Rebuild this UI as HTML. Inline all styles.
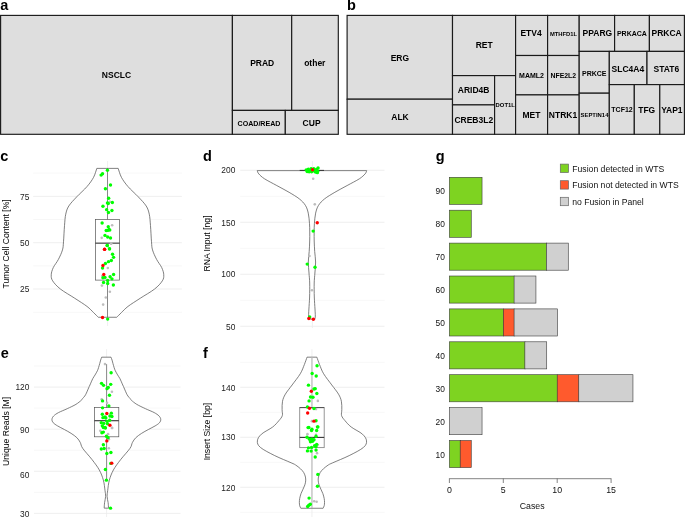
<!DOCTYPE html>
<html><head><meta charset="utf-8"><title>Figure</title>
<style>
html,body{margin:0;padding:0;background:#fff;}
body{width:685px;height:517px;overflow:hidden;}
svg{display:block;will-change:transform;font-family:"Liberation Sans",sans-serif;}
</style></head><body>
<svg width="685" height="517" viewBox="0 0 685 517">
<rect x="0" y="0" width="685" height="517" fill="#ffffff"/>
<rect x="0.60" y="15.40" width="231.80" height="118.90" fill="#dedede" stroke="#1a1a1a" stroke-width="1.15"/>
<rect x="232.40" y="15.40" width="59.30" height="95.00" fill="#dedede" stroke="#1a1a1a" stroke-width="1.15"/>
<rect x="291.70" y="15.40" width="46.60" height="95.00" fill="#dedede" stroke="#1a1a1a" stroke-width="1.15"/>
<rect x="232.40" y="110.40" width="52.90" height="23.90" fill="#dedede" stroke="#1a1a1a" stroke-width="1.15"/>
<rect x="285.30" y="110.40" width="53.00" height="23.90" fill="#dedede" stroke="#1a1a1a" stroke-width="1.15"/>
<text x="116.50" y="77.84" font-size="8.5" font-weight="bold" text-anchor="middle" fill="#000" >NSCLC</text>
<text x="262.20" y="66.34" font-size="8.5" font-weight="bold" text-anchor="middle" fill="#000" >PRAD</text>
<text x="314.80" y="66.34" font-size="8.5" font-weight="bold" text-anchor="middle" fill="#000" >other</text>
<text x="259.00" y="125.74" font-size="7.1" font-weight="bold" text-anchor="middle" fill="#000" >COAD/READ</text>
<text x="311.60" y="126.14" font-size="8.5" font-weight="bold" text-anchor="middle" fill="#000" >CUP</text>
<rect x="347.10" y="15.40" width="105.40" height="83.80" fill="#dedede" stroke="#1a1a1a" stroke-width="1.15"/>
<rect x="347.10" y="99.20" width="105.40" height="35.10" fill="#dedede" stroke="#1a1a1a" stroke-width="1.15"/>
<rect x="452.50" y="15.40" width="63.10" height="60.20" fill="#dedede" stroke="#1a1a1a" stroke-width="1.15"/>
<rect x="452.50" y="75.60" width="42.10" height="29.30" fill="#dedede" stroke="#1a1a1a" stroke-width="1.15"/>
<rect x="452.50" y="104.90" width="42.10" height="29.40" fill="#dedede" stroke="#1a1a1a" stroke-width="1.15"/>
<rect x="494.60" y="75.60" width="21.00" height="58.70" fill="#dedede" stroke="#1a1a1a" stroke-width="1.15"/>
<rect x="515.60" y="15.40" width="32.00" height="40.10" fill="#dedede" stroke="#1a1a1a" stroke-width="1.15"/>
<rect x="547.60" y="15.40" width="31.60" height="40.10" fill="#dedede" stroke="#1a1a1a" stroke-width="1.15"/>
<rect x="515.60" y="55.50" width="32.00" height="39.40" fill="#dedede" stroke="#1a1a1a" stroke-width="1.15"/>
<rect x="547.60" y="55.50" width="31.60" height="39.40" fill="#dedede" stroke="#1a1a1a" stroke-width="1.15"/>
<rect x="515.60" y="94.90" width="32.00" height="39.40" fill="#dedede" stroke="#1a1a1a" stroke-width="1.15"/>
<rect x="547.60" y="94.90" width="31.60" height="39.40" fill="#dedede" stroke="#1a1a1a" stroke-width="1.15"/>
<rect x="579.20" y="15.40" width="35.40" height="36.00" fill="#dedede" stroke="#1a1a1a" stroke-width="1.15"/>
<rect x="614.60" y="15.40" width="34.80" height="36.00" fill="#dedede" stroke="#1a1a1a" stroke-width="1.15"/>
<rect x="649.40" y="15.40" width="35.00" height="36.00" fill="#dedede" stroke="#1a1a1a" stroke-width="1.15"/>
<rect x="579.20" y="51.40" width="30.10" height="41.80" fill="#dedede" stroke="#1a1a1a" stroke-width="1.15"/>
<rect x="579.20" y="93.20" width="30.10" height="41.10" fill="#dedede" stroke="#1a1a1a" stroke-width="1.15"/>
<rect x="609.30" y="51.40" width="37.70" height="33.20" fill="#dedede" stroke="#1a1a1a" stroke-width="1.15"/>
<rect x="647.00" y="51.40" width="37.40" height="33.20" fill="#dedede" stroke="#1a1a1a" stroke-width="1.15"/>
<rect x="609.30" y="84.60" width="25.00" height="49.70" fill="#dedede" stroke="#1a1a1a" stroke-width="1.15"/>
<rect x="634.30" y="84.60" width="25.50" height="49.70" fill="#dedede" stroke="#1a1a1a" stroke-width="1.15"/>
<rect x="659.80" y="84.60" width="24.60" height="49.70" fill="#dedede" stroke="#1a1a1a" stroke-width="1.15"/>
<text x="399.90" y="61.04" font-size="8.5" font-weight="bold" text-anchor="middle" fill="#000" >ERG</text>
<text x="400.00" y="120.34" font-size="8.5" font-weight="bold" text-anchor="middle" fill="#000" >ALK</text>
<text x="484.20" y="48.44" font-size="8.5" font-weight="bold" text-anchor="middle" fill="#000" >RET</text>
<text x="473.60" y="93.34" font-size="8.5" font-weight="bold" text-anchor="middle" fill="#000" >ARID4B</text>
<text x="473.80" y="123.04" font-size="8.5" font-weight="bold" text-anchor="middle" fill="#000" >CREB3L2</text>
<text x="505.20" y="107.49" font-size="5.85" font-weight="bold" text-anchor="middle" fill="#000" >DOT1L</text>
<text x="531.10" y="36.44" font-size="8.5" font-weight="bold" text-anchor="middle" fill="#000" >ETV4</text>
<text x="563.50" y="35.98" font-size="5.8" font-weight="bold" text-anchor="middle" fill="#000" >MTHFD1L</text>
<text x="531.50" y="78.11" font-size="7.0" font-weight="bold" text-anchor="middle" fill="#000" >MAML2</text>
<text x="563.30" y="78.27" font-size="6.9" font-weight="bold" text-anchor="middle" fill="#000" >NFE2L2</text>
<text x="531.50" y="117.64" font-size="8.5" font-weight="bold" text-anchor="middle" fill="#000" >MET</text>
<text x="563.00" y="117.54" font-size="8.5" font-weight="bold" text-anchor="middle" fill="#000" >NTRK1</text>
<text x="597.40" y="36.44" font-size="8.5" font-weight="bold" text-anchor="middle" fill="#000" >PPARG</text>
<text x="631.90" y="36.01" font-size="7.0" font-weight="bold" text-anchor="middle" fill="#000" >PRKACA</text>
<text x="666.60" y="36.44" font-size="8.5" font-weight="bold" text-anchor="middle" fill="#000" >PRKCA</text>
<text x="594.30" y="75.51" font-size="7.0" font-weight="bold" text-anchor="middle" fill="#000" >PRKCE</text>
<text x="594.50" y="116.81" font-size="5.9" font-weight="bold" text-anchor="middle" fill="#000" >SEPTIN14</text>
<text x="627.90" y="71.64" font-size="8.5" font-weight="bold" text-anchor="middle" fill="#000" >SLC4A4</text>
<text x="666.40" y="71.64" font-size="8.5" font-weight="bold" text-anchor="middle" fill="#000" >STAT6</text>
<text x="622.00" y="112.01" font-size="7.0" font-weight="bold" text-anchor="middle" fill="#000" >TCF12</text>
<text x="646.70" y="112.54" font-size="8.5" font-weight="bold" text-anchor="middle" fill="#000" >TFG</text>
<text x="671.90" y="112.54" font-size="8.5" font-weight="bold" text-anchor="middle" fill="#000" >YAP1</text>
<text x="0.20" y="10.40" font-size="14.5" font-weight="bold" text-anchor="start" fill="#000" >a</text>
<text x="346.90" y="10.30" font-size="14.5" font-weight="bold" text-anchor="start" fill="#000" >b</text>
<text x="0.30" y="161.00" font-size="14.5" font-weight="bold" text-anchor="start" fill="#000" >c</text>
<text x="202.90" y="160.70" font-size="14.5" font-weight="bold" text-anchor="start" fill="#000" >d</text>
<text x="0.80" y="357.70" font-size="14.5" font-weight="bold" text-anchor="start" fill="#000" >e</text>
<text x="203.10" y="357.70" font-size="14.5" font-weight="bold" text-anchor="start" fill="#000" >f</text>
<text x="435.70" y="160.90" font-size="14.5" font-weight="bold" text-anchor="start" fill="#000" >g</text>
<line x1="33.20" y1="173.10" x2="181.90" y2="173.10" stroke="#f2f2f2" stroke-width="0.6"/>
<line x1="33.20" y1="219.50" x2="181.90" y2="219.50" stroke="#f2f2f2" stroke-width="0.6"/>
<line x1="33.20" y1="265.90" x2="181.90" y2="265.90" stroke="#f2f2f2" stroke-width="0.6"/>
<line x1="33.20" y1="312.30" x2="181.90" y2="312.30" stroke="#f2f2f2" stroke-width="0.6"/>
<line x1="33.20" y1="196.40" x2="181.90" y2="196.40" stroke="#ebebeb" stroke-width="0.8"/>
<line x1="33.20" y1="242.70" x2="181.90" y2="242.70" stroke="#ebebeb" stroke-width="0.8"/>
<line x1="33.20" y1="289.00" x2="181.90" y2="289.00" stroke="#ebebeb" stroke-width="0.8"/>
<line x1="107.55" y1="161" x2="107.55" y2="326" stroke="#ebebeb" stroke-width="0.8"/>
<text x="29.30" y="199.50" font-size="8.4" font-weight="normal" text-anchor="end" fill="#222" >75</text>
<text x="29.30" y="245.70" font-size="8.4" font-weight="normal" text-anchor="end" fill="#222" >50</text>
<text x="29.30" y="292.00" font-size="8.4" font-weight="normal" text-anchor="end" fill="#222" >25</text>
<text transform="translate(8.9,243.9) rotate(-90)" font-size="8.65" text-anchor="middle" fill="#000">Tumor Cell Content [%]</text>
<path d="M96.82,168.38 C96.27,169.88 95.18,174.34 93.55,177.37 C91.91,180.40 89.80,183.33 87.01,186.57 C84.21,189.80 79.82,193.55 76.79,196.79 C73.76,200.02 70.66,203.09 68.82,205.98 C66.98,208.88 66.47,210.92 65.75,214.16 C65.04,217.39 64.90,220.80 64.52,225.40 C64.15,230.00 63.84,237.66 63.50,241.75 C63.16,245.84 63.33,246.98 62.48,249.92 C61.63,252.87 59.93,256.47 58.39,259.42 C56.86,262.36 54.48,265.04 53.28,267.59 C52.09,270.15 51.34,272.53 51.24,274.74 C51.14,276.96 51.14,278.49 52.67,280.87 C54.20,283.26 56.76,286.15 60.44,289.05 C64.12,291.94 70.32,295.35 74.74,298.25 C79.17,301.14 83.87,304.04 87.01,306.42 C90.14,308.81 91.67,310.75 93.55,312.55 C95.42,314.36 97.46,316.47 98.25,317.25 L116.75,317.25  C117.54,316.47 119.58,314.36 121.45,312.55 C123.33,310.75 124.86,308.81 127.99,306.42 C131.13,304.04 135.83,301.14 140.26,298.25 C144.68,295.35 150.88,291.94 154.56,289.05 C158.24,286.15 160.80,283.26 162.33,280.87 C163.86,278.49 163.86,276.96 163.76,274.74 C163.66,272.53 162.91,270.15 161.72,267.59 C160.52,265.04 158.14,262.36 156.61,259.42 C155.07,256.47 153.37,252.87 152.52,249.92 C151.67,246.98 151.84,245.84 151.50,241.75 C151.16,237.66 150.85,230.00 150.48,225.40 C150.10,220.80 149.96,217.39 149.25,214.16 C148.53,210.92 148.02,208.88 146.18,205.98 C144.34,203.09 141.24,200.02 138.21,196.79 C135.18,193.55 130.79,189.80 127.99,186.57 C125.20,183.33 123.09,180.40 121.45,177.37 C119.82,174.34 118.73,169.88 118.18,168.38 Z" fill="#ffffff" stroke="#555" stroke-width="0.75" stroke-linejoin="round"/>
<line x1="107.50" y1="168.40" x2="107.50" y2="219.40" stroke="#555" stroke-width="0.7"/>
<line x1="107.50" y1="280.10" x2="107.50" y2="317.30" stroke="#555" stroke-width="0.7"/>
<rect x="95.35" y="219.40" width="24.30" height="60.70" fill="none" stroke="#555" stroke-width="0.7"/>
<line x1="95.35" y1="243.15" x2="119.65" y2="243.15" stroke="#333" stroke-width="1.1"/>
<circle cx="109.90" cy="201.69" r="1.3" fill="#bdbdbd"/>
<circle cx="112.14" cy="225.20" r="1.3" fill="#bdbdbd"/>
<circle cx="101.72" cy="237.87" r="1.3" fill="#bdbdbd"/>
<circle cx="111.12" cy="243.59" r="1.3" fill="#bdbdbd"/>
<circle cx="111.12" cy="243.68" r="1.3" fill="#bdbdbd"/>
<circle cx="107.85" cy="268.00" r="1.3" fill="#bdbdbd"/>
<circle cx="102.33" cy="275.77" r="1.3" fill="#bdbdbd"/>
<circle cx="101.93" cy="285.58" r="1.3" fill="#bdbdbd"/>
<circle cx="109.90" cy="291.71" r="1.3" fill="#bdbdbd"/>
<circle cx="105.81" cy="297.43" r="1.3" fill="#bdbdbd"/>
<circle cx="103.15" cy="304.58" r="1.3" fill="#bdbdbd"/>
<circle cx="107.44" cy="170.22" r="1.7" fill="#00ff00"/>
<circle cx="102.54" cy="173.69" r="1.7" fill="#00ff00"/>
<circle cx="101.11" cy="175.12" r="1.7" fill="#00ff00"/>
<circle cx="110.51" cy="184.93" r="1.7" fill="#00ff00"/>
<circle cx="105.40" cy="188.82" r="1.7" fill="#00ff00"/>
<circle cx="108.67" cy="198.22" r="1.7" fill="#00ff00"/>
<circle cx="107.44" cy="202.92" r="1.7" fill="#00ff00"/>
<circle cx="112.35" cy="202.51" r="1.7" fill="#00ff00"/>
<circle cx="108.26" cy="203.53" r="1.7" fill="#00ff00"/>
<circle cx="102.95" cy="206.19" r="1.7" fill="#00ff00"/>
<circle cx="106.63" cy="209.66" r="1.7" fill="#00ff00"/>
<circle cx="111.94" cy="210.48" r="1.7" fill="#00ff00"/>
<circle cx="108.47" cy="212.52" r="1.7" fill="#00ff00"/>
<circle cx="102.13" cy="222.95" r="1.7" fill="#00ff00"/>
<circle cx="108.26" cy="226.63" r="1.7" fill="#00ff00"/>
<circle cx="109.08" cy="229.49" r="1.7" fill="#00ff00"/>
<circle cx="106.22" cy="230.51" r="1.7" fill="#00ff00"/>
<circle cx="104.99" cy="235.41" r="1.7" fill="#00ff00"/>
<circle cx="107.65" cy="237.05" r="1.7" fill="#00ff00"/>
<circle cx="110.51" cy="238.07" r="1.7" fill="#00ff00"/>
<circle cx="107.24" cy="245.43" r="1.7" fill="#00ff00"/>
<circle cx="109.49" cy="248.90" r="1.7" fill="#00ff00"/>
<circle cx="107.24" cy="245.52" r="1.7" fill="#00ff00"/>
<circle cx="109.49" cy="248.79" r="1.7" fill="#00ff00"/>
<circle cx="112.55" cy="254.31" r="1.7" fill="#00ff00"/>
<circle cx="113.57" cy="257.37" r="1.7" fill="#00ff00"/>
<circle cx="111.33" cy="260.44" r="1.7" fill="#00ff00"/>
<circle cx="108.47" cy="261.66" r="1.7" fill="#00ff00"/>
<circle cx="105.40" cy="263.50" r="1.7" fill="#00ff00"/>
<circle cx="102.54" cy="268.00" r="1.7" fill="#00ff00"/>
<circle cx="113.57" cy="274.54" r="1.7" fill="#00ff00"/>
<circle cx="110.10" cy="276.79" r="1.7" fill="#00ff00"/>
<circle cx="104.99" cy="277.40" r="1.7" fill="#00ff00"/>
<circle cx="102.95" cy="277.81" r="1.7" fill="#00ff00"/>
<circle cx="111.94" cy="278.83" r="1.7" fill="#00ff00"/>
<circle cx="107.65" cy="280.47" r="1.7" fill="#00ff00"/>
<circle cx="103.56" cy="282.51" r="1.7" fill="#00ff00"/>
<circle cx="107.65" cy="283.53" r="1.7" fill="#00ff00"/>
<circle cx="113.37" cy="284.96" r="1.7" fill="#00ff00"/>
<circle cx="107.65" cy="319.09" r="1.7" fill="#00ff00"/>
<circle cx="109.80" cy="230.10" r="1.7" fill="#00ff00"/>
<circle cx="107.70" cy="230.40" r="1.7" fill="#00ff00"/>
<circle cx="104.58" cy="249.31" r="1.7" fill="#ff0000"/>
<circle cx="104.58" cy="249.40" r="1.7" fill="#ff0000"/>
<circle cx="102.95" cy="265.55" r="1.7" fill="#ff0000"/>
<circle cx="103.76" cy="274.54" r="1.7" fill="#ff0000"/>
<circle cx="102.54" cy="317.46" r="1.7" fill="#ff0000"/>
<line x1="240.20" y1="196.30" x2="384.50" y2="196.30" stroke="#f2f2f2" stroke-width="0.6"/>
<line x1="240.20" y1="248.30" x2="384.50" y2="248.30" stroke="#f2f2f2" stroke-width="0.6"/>
<line x1="240.20" y1="300.30" x2="384.50" y2="300.30" stroke="#f2f2f2" stroke-width="0.6"/>
<line x1="240.20" y1="170.30" x2="384.50" y2="170.30" stroke="#ebebeb" stroke-width="0.8"/>
<line x1="240.20" y1="222.30" x2="384.50" y2="222.30" stroke="#ebebeb" stroke-width="0.8"/>
<line x1="240.20" y1="274.30" x2="384.50" y2="274.30" stroke="#ebebeb" stroke-width="0.8"/>
<line x1="240.20" y1="326.30" x2="384.50" y2="326.30" stroke="#ebebeb" stroke-width="0.8"/>
<line x1="312.35" y1="161" x2="312.35" y2="328" stroke="#ebebeb" stroke-width="0.8"/>
<text x="235.30" y="173.30" font-size="8.4" font-weight="normal" text-anchor="end" fill="#222" >200</text>
<text x="235.30" y="225.50" font-size="8.4" font-weight="normal" text-anchor="end" fill="#222" >150</text>
<text x="235.30" y="277.40" font-size="8.4" font-weight="normal" text-anchor="end" fill="#222" >100</text>
<text x="235.30" y="329.60" font-size="8.4" font-weight="normal" text-anchor="end" fill="#222" >50</text>
<text transform="translate(209.8,243.5) rotate(-90)" font-size="8.65" text-anchor="middle" fill="#000">RNA Input [ng]</text>
<path d="M257.17,170.63 C257.44,171.17 257.58,172.53 258.80,173.90 C260.03,175.26 261.53,176.86 264.52,178.80 C267.52,180.74 272.70,183.30 276.79,185.55 C280.87,187.79 285.30,190.08 289.05,192.29 C292.80,194.51 296.54,196.65 299.27,198.83 C301.99,201.01 303.90,202.99 305.40,205.37 C306.90,207.76 307.58,210.14 308.26,213.14 C308.94,216.13 309.24,220.21 309.49,223.36 C309.74,226.50 309.71,229.06 309.75,232.00 C309.79,234.94 309.79,237.75 309.70,241.00 C309.61,244.25 309.43,248.00 309.20,251.50 C308.97,255.00 308.33,258.42 308.30,262.00 C308.27,265.58 308.77,269.50 309.00,273.00 C309.23,276.50 309.60,279.00 309.70,283.00 C309.80,287.00 309.73,292.67 309.60,297.00 C309.47,301.33 309.07,305.83 308.90,309.00 C308.73,312.17 308.58,314.33 308.60,316.00 C308.62,317.67 308.93,318.50 309.00,319.00 L314.90,319.00  C314.97,318.50 315.28,317.67 315.30,316.00 C315.32,314.33 315.17,312.17 315.00,309.00 C314.83,305.83 314.43,301.33 314.30,297.00 C314.17,292.67 314.10,287.00 314.20,283.00 C314.30,279.00 314.67,276.50 314.90,273.00 C315.13,269.50 315.63,265.58 315.60,262.00 C315.57,258.42 314.93,255.00 314.70,251.50 C314.47,248.00 314.29,244.25 314.20,241.00 C314.11,237.75 314.11,234.94 314.15,232.00 C314.19,229.06 314.16,226.50 314.41,223.36 C314.66,220.21 314.96,216.13 315.64,213.14 C316.32,210.14 317.00,207.76 318.50,205.37 C320.00,202.99 321.91,201.01 324.63,198.83 C327.36,196.65 331.10,194.51 334.85,192.29 C338.60,190.08 343.03,187.79 347.11,185.55 C351.20,183.30 356.38,180.74 359.38,178.80 C362.37,176.86 363.87,175.26 365.10,173.90 C366.32,172.53 366.46,171.17 366.73,170.63 Z" fill="#ffffff" stroke="#555" stroke-width="0.75" stroke-linejoin="round"/>
<line x1="299.7" y1="170.4" x2="324" y2="170.4" stroke="#333" stroke-width="1.0"/>
<circle cx="313.17" cy="178.80" r="1.3" fill="#bdbdbd"/>
<circle cx="314.80" cy="204.35" r="1.3" fill="#bdbdbd"/>
<circle cx="309.49" cy="255.94" r="1.3" fill="#bdbdbd"/>
<circle cx="311.94" cy="290.28" r="1.3" fill="#bdbdbd"/>
<circle cx="306.24" cy="169.85" r="1.7" fill="#00ff00"/>
<circle cx="307.17" cy="171.47" r="1.7" fill="#00ff00"/>
<circle cx="308.33" cy="169.15" r="1.7" fill="#00ff00"/>
<circle cx="309.14" cy="171.82" r="1.7" fill="#00ff00"/>
<circle cx="310.30" cy="170.66" r="1.7" fill="#00ff00"/>
<circle cx="311.11" cy="168.69" r="1.7" fill="#00ff00"/>
<circle cx="311.58" cy="171.82" r="1.7" fill="#00ff00"/>
<circle cx="313.78" cy="168.69" r="1.7" fill="#00ff00"/>
<circle cx="314.59" cy="171.24" r="1.7" fill="#00ff00"/>
<circle cx="315.75" cy="172.17" r="1.7" fill="#00ff00"/>
<circle cx="316.45" cy="169.50" r="1.7" fill="#00ff00"/>
<circle cx="317.61" cy="171.24" r="1.7" fill="#00ff00"/>
<circle cx="318.07" cy="167.99" r="1.7" fill="#00ff00"/>
<circle cx="317.38" cy="172.63" r="1.7" fill="#00ff00"/>
<circle cx="313.17" cy="231.12" r="1.7" fill="#00ff00"/>
<circle cx="307.24" cy="264.12" r="1.7" fill="#00ff00"/>
<circle cx="315.01" cy="267.18" r="1.7" fill="#00ff00"/>
<circle cx="309.69" cy="317.05" r="1.7" fill="#00ff00"/>
<circle cx="312.55" cy="169.81" r="1.7" fill="#ff0000"/>
<circle cx="317.25" cy="222.74" r="1.7" fill="#ff0000"/>
<circle cx="308.87" cy="318.48" r="1.7" fill="#ff0000"/>
<circle cx="313.37" cy="319.30" r="1.7" fill="#ff0000"/>
<line x1="34.00" y1="366.00" x2="180.50" y2="366.00" stroke="#f2f2f2" stroke-width="0.6"/>
<line x1="34.00" y1="408.10" x2="180.50" y2="408.10" stroke="#f2f2f2" stroke-width="0.6"/>
<line x1="34.00" y1="450.20" x2="180.50" y2="450.20" stroke="#f2f2f2" stroke-width="0.6"/>
<line x1="34.00" y1="492.40" x2="180.50" y2="492.40" stroke="#f2f2f2" stroke-width="0.6"/>
<line x1="34.00" y1="387.10" x2="180.50" y2="387.10" stroke="#ebebeb" stroke-width="0.8"/>
<line x1="34.00" y1="429.20" x2="180.50" y2="429.20" stroke="#ebebeb" stroke-width="0.8"/>
<line x1="34.00" y1="471.30" x2="180.50" y2="471.30" stroke="#ebebeb" stroke-width="0.8"/>
<line x1="34.00" y1="513.40" x2="180.50" y2="513.40" stroke="#ebebeb" stroke-width="0.8"/>
<line x1="106.60" y1="349.2" x2="106.60" y2="517" stroke="#ebebeb" stroke-width="0.8"/>
<text x="29.40" y="390.40" font-size="8.4" font-weight="normal" text-anchor="end" fill="#222" >120</text>
<text x="29.40" y="433.10" font-size="8.4" font-weight="normal" text-anchor="end" fill="#222" >90</text>
<text x="29.40" y="478.00" font-size="8.4" font-weight="normal" text-anchor="end" fill="#222" >60</text>
<text x="29.40" y="516.60" font-size="8.4" font-weight="normal" text-anchor="end" fill="#222" >30</text>
<text transform="translate(8.9,431.4) rotate(-90)" font-size="8.65" text-anchor="middle" fill="#000">Unique Reads [M]</text>
<path d="M101.69,357.18 C101.52,357.66 100.98,359.02 100.65,360.08 C100.32,361.14 100.07,362.30 99.72,363.56 C99.37,364.82 98.95,366.42 98.56,367.62 C98.17,368.82 97.98,369.54 97.40,370.75 C96.82,371.97 95.85,373.62 95.08,374.93 C94.31,376.25 93.53,377.15 92.76,378.64 C91.99,380.13 91.21,382.12 90.44,383.86 C89.67,385.60 88.80,387.54 88.12,389.08 C87.44,390.63 86.94,391.98 86.38,393.14 C85.82,394.30 85.39,395.14 84.76,396.04 C84.12,396.95 83.13,397.89 82.55,398.60 C81.97,399.30 82.37,399.33 81.27,400.29 C80.17,401.25 78.28,402.95 75.95,404.35 C73.61,405.75 70.15,407.33 67.24,408.70 C64.34,410.07 60.80,411.36 58.54,412.57 C56.28,413.78 54.80,414.83 53.70,415.96 C52.61,417.09 52.04,418.21 51.96,419.34 C51.88,420.47 52.29,421.63 53.22,422.73 C54.16,423.82 55.72,424.79 57.57,425.92 C59.43,427.05 62.09,428.26 64.34,429.50 C66.60,430.74 69.02,432.00 71.11,433.37 C73.21,434.74 75.38,436.19 76.91,437.72 C78.45,439.25 79.33,440.78 80.30,442.55 C81.27,444.33 80.75,445.50 82.72,448.36 C84.69,451.21 89.36,456.11 92.12,459.70 C94.87,463.29 97.39,466.51 99.27,469.92 C101.14,473.32 102.40,476.73 103.36,480.14 C104.31,483.54 104.62,487.63 104.99,490.36 C105.37,493.08 105.67,494.44 105.60,496.49 C105.54,498.53 104.82,500.68 104.58,502.62 C104.34,504.56 104.24,507.22 104.17,508.14 L108.53,508.14  C108.46,507.22 108.36,504.56 108.12,502.62 C107.88,500.68 107.16,498.53 107.10,496.49 C107.03,494.44 107.33,493.08 107.71,490.36 C108.08,487.63 108.39,483.54 109.34,480.14 C110.30,476.73 111.56,473.32 113.43,469.92 C115.31,466.51 117.83,463.29 120.58,459.70 C123.34,456.11 128.01,451.21 129.98,448.36 C131.95,445.50 131.43,444.33 132.40,442.55 C133.37,440.78 134.25,439.25 135.79,437.72 C137.32,436.19 139.49,434.74 141.59,433.37 C143.68,432.00 146.10,430.74 148.36,429.50 C150.61,428.26 153.27,427.05 155.13,425.92 C156.98,424.79 158.54,423.82 159.48,422.73 C160.41,421.63 160.82,420.47 160.74,419.34 C160.66,418.21 160.09,417.09 159.00,415.96 C157.90,414.83 156.42,413.78 154.16,412.57 C151.90,411.36 148.36,410.07 145.46,408.70 C142.55,407.33 139.09,405.75 136.75,404.35 C134.42,402.95 132.53,401.25 131.43,400.29 C130.33,399.33 130.73,399.30 130.15,398.60 C129.57,397.89 128.58,396.95 127.94,396.04 C127.31,395.14 126.88,394.30 126.32,393.14 C125.76,391.98 125.26,390.63 124.58,389.08 C123.90,387.54 123.03,385.60 122.26,383.86 C121.49,382.12 120.71,380.13 119.94,378.64 C119.17,377.15 118.39,376.25 117.62,374.93 C116.85,373.62 115.88,371.97 115.30,370.75 C114.72,369.54 114.53,368.82 114.14,367.62 C113.75,366.42 113.33,364.82 112.98,363.56 C112.63,362.30 112.38,361.14 112.05,360.08 C111.72,359.02 111.18,357.66 111.01,357.18 Z" fill="#ffffff" stroke="#555" stroke-width="0.75" stroke-linejoin="round"/>
<line x1="106.60" y1="364.10" x2="106.60" y2="407.60" stroke="#555" stroke-width="0.7"/>
<line x1="106.60" y1="436.80" x2="106.60" y2="480.10" stroke="#555" stroke-width="0.7"/>
<rect x="94.40" y="407.60" width="24.40" height="29.20" fill="none" stroke="#555" stroke-width="0.7"/>
<line x1="94.40" y1="420.70" x2="118.80" y2="420.70" stroke="#333" stroke-width="1.1"/>
<circle cx="104.99" cy="364.12" r="1.3" fill="#bdbdbd"/>
<circle cx="111.94" cy="391.71" r="1.3" fill="#bdbdbd"/>
<circle cx="101.72" cy="399.27" r="1.3" fill="#bdbdbd"/>
<circle cx="107.03" cy="402.74" r="1.3" fill="#bdbdbd"/>
<circle cx="111.94" cy="427.88" r="1.3" fill="#bdbdbd"/>
<circle cx="112.14" cy="428.02" r="1.3" fill="#bdbdbd"/>
<circle cx="100.29" cy="430.68" r="1.3" fill="#bdbdbd"/>
<circle cx="108.06" cy="434.15" r="1.3" fill="#bdbdbd"/>
<circle cx="108.87" cy="439.26" r="1.3" fill="#bdbdbd"/>
<circle cx="108.87" cy="448.25" r="1.3" fill="#bdbdbd"/>
<circle cx="111.12" cy="372.70" r="1.7" fill="#00ff00"/>
<circle cx="101.52" cy="383.33" r="1.7" fill="#00ff00"/>
<circle cx="103.56" cy="385.37" r="1.7" fill="#00ff00"/>
<circle cx="110.71" cy="384.35" r="1.7" fill="#00ff00"/>
<circle cx="108.26" cy="387.41" r="1.7" fill="#00ff00"/>
<circle cx="107.03" cy="388.64" r="1.7" fill="#00ff00"/>
<circle cx="109.49" cy="395.18" r="1.7" fill="#00ff00"/>
<circle cx="102.54" cy="400.90" r="1.7" fill="#00ff00"/>
<circle cx="108.87" cy="406.01" r="1.7" fill="#00ff00"/>
<circle cx="102.54" cy="407.85" r="1.7" fill="#00ff00"/>
<circle cx="102.33" cy="414.19" r="1.7" fill="#00ff00"/>
<circle cx="111.33" cy="413.17" r="1.7" fill="#00ff00"/>
<circle cx="109.90" cy="416.03" r="1.7" fill="#00ff00"/>
<circle cx="111.94" cy="416.44" r="1.7" fill="#00ff00"/>
<circle cx="104.99" cy="417.05" r="1.7" fill="#00ff00"/>
<circle cx="102.95" cy="417.66" r="1.7" fill="#00ff00"/>
<circle cx="105.81" cy="418.07" r="1.7" fill="#00ff00"/>
<circle cx="109.69" cy="420.32" r="1.7" fill="#00ff00"/>
<circle cx="107.03" cy="421.34" r="1.7" fill="#00ff00"/>
<circle cx="101.31" cy="422.77" r="1.7" fill="#00ff00"/>
<circle cx="103.76" cy="423.38" r="1.7" fill="#00ff00"/>
<circle cx="107.44" cy="423.79" r="1.7" fill="#00ff00"/>
<circle cx="102.33" cy="425.84" r="1.7" fill="#00ff00"/>
<circle cx="104.99" cy="427.47" r="1.7" fill="#00ff00"/>
<circle cx="103.36" cy="427.61" r="1.7" fill="#00ff00"/>
<circle cx="105.40" cy="428.02" r="1.7" fill="#00ff00"/>
<circle cx="101.93" cy="432.72" r="1.7" fill="#00ff00"/>
<circle cx="103.36" cy="432.11" r="1.7" fill="#00ff00"/>
<circle cx="106.42" cy="436.20" r="1.7" fill="#00ff00"/>
<circle cx="108.06" cy="437.63" r="1.7" fill="#00ff00"/>
<circle cx="103.36" cy="444.78" r="1.7" fill="#00ff00"/>
<circle cx="101.31" cy="449.07" r="1.7" fill="#00ff00"/>
<circle cx="104.17" cy="448.46" r="1.7" fill="#00ff00"/>
<circle cx="110.92" cy="452.55" r="1.7" fill="#00ff00"/>
<circle cx="106.83" cy="453.57" r="1.7" fill="#00ff00"/>
<circle cx="105.40" cy="469.51" r="1.7" fill="#00ff00"/>
<circle cx="106.42" cy="480.14" r="1.7" fill="#00ff00"/>
<circle cx="110.51" cy="508.14" r="1.7" fill="#00ff00"/>
<circle cx="110.71" cy="463.38" r="1.7" fill="#00ff00"/>
<circle cx="106.83" cy="413.57" r="1.7" fill="#ff0000"/>
<circle cx="109.90" cy="425.22" r="1.7" fill="#ff0000"/>
<circle cx="106.83" cy="440.90" r="1.7" fill="#ff0000"/>
<circle cx="111.74" cy="463.17" r="1.7" fill="#ff0000"/>
<line x1="240.20" y1="362.30" x2="384.50" y2="362.30" stroke="#f2f2f2" stroke-width="0.6"/>
<line x1="240.20" y1="412.30" x2="384.50" y2="412.30" stroke="#f2f2f2" stroke-width="0.6"/>
<line x1="240.20" y1="462.30" x2="384.50" y2="462.30" stroke="#f2f2f2" stroke-width="0.6"/>
<line x1="240.20" y1="512.30" x2="384.50" y2="512.30" stroke="#f2f2f2" stroke-width="0.6"/>
<line x1="240.20" y1="387.30" x2="384.50" y2="387.30" stroke="#ebebeb" stroke-width="0.8"/>
<line x1="240.20" y1="437.30" x2="384.50" y2="437.30" stroke="#ebebeb" stroke-width="0.8"/>
<line x1="240.20" y1="487.30" x2="384.50" y2="487.30" stroke="#ebebeb" stroke-width="0.8"/>
<line x1="311.95" y1="349.2" x2="311.95" y2="517" stroke="#ebebeb" stroke-width="0.8"/>
<text x="235.30" y="390.60" font-size="8.4" font-weight="normal" text-anchor="end" fill="#222" >140</text>
<text x="235.30" y="440.30" font-size="8.4" font-weight="normal" text-anchor="end" fill="#222" >130</text>
<text x="235.30" y="490.60" font-size="8.4" font-weight="normal" text-anchor="end" fill="#222" >120</text>
<text transform="translate(209.8,431.6) rotate(-90)" font-size="8.65" text-anchor="middle" fill="#000">Insert Size [bp]</text>
<path d="M307.03,357.17 C306.59,358.39 305.50,361.77 304.38,364.52 C303.25,367.28 302.33,370.32 300.29,373.72 C298.25,377.13 294.60,381.56 292.12,384.96 C289.63,388.37 286.97,391.43 285.37,394.16 C283.77,396.88 283.05,398.76 282.51,401.31 C281.96,403.87 282.14,407.10 282.10,409.49 C282.07,411.87 282.85,413.74 282.31,415.62 C281.76,417.49 280.43,418.83 278.83,420.73 C277.23,422.62 275.60,424.76 272.70,427.00 C269.80,429.24 264.01,431.84 261.46,434.15 C258.90,436.47 257.54,438.68 257.37,440.90 C257.20,443.11 257.54,444.98 260.44,447.44 C263.33,449.89 269.63,453.06 274.74,455.61 C279.85,458.17 287.63,461.21 291.09,462.77 C294.55,464.32 293.95,463.92 295.51,464.92 C297.08,465.93 299.10,467.50 300.47,468.78 C301.85,470.07 302.95,471.26 303.78,472.64 C304.61,474.02 305.12,475.67 305.44,477.05 C305.75,478.43 305.75,479.62 305.66,480.91 C305.56,482.20 305.33,483.39 304.88,484.77 C304.44,486.15 303.65,487.71 303.01,489.18 C302.37,490.65 301.58,492.03 301.03,493.59 C300.47,495.15 299.98,497.08 299.70,498.55 C299.43,500.02 299.37,501.21 299.37,502.41 C299.37,503.60 299.46,504.74 299.70,505.72 C299.94,506.69 300.62,507.83 300.80,508.25 L323.10,508.25  C323.28,507.83 323.96,506.69 324.20,505.72 C324.44,504.74 324.53,503.60 324.53,502.41 C324.53,501.21 324.47,500.02 324.20,498.55 C323.92,497.08 323.43,495.15 322.87,493.59 C322.32,492.03 321.53,490.65 320.89,489.18 C320.25,487.71 319.46,486.15 319.02,484.77 C318.57,483.39 318.34,482.20 318.24,480.91 C318.15,479.62 318.15,478.43 318.46,477.05 C318.78,475.67 319.29,474.02 320.12,472.64 C320.95,471.26 322.05,470.07 323.43,468.78 C324.80,467.50 326.82,465.93 328.39,464.92 C329.95,463.92 329.35,464.32 332.81,462.77 C336.27,461.21 344.05,458.17 349.16,455.61 C354.27,453.06 360.57,449.89 363.46,447.44 C366.36,444.98 366.70,443.11 366.53,440.90 C366.36,438.68 365.00,436.47 362.44,434.15 C359.89,431.84 354.10,429.24 351.20,427.00 C348.30,424.76 346.67,422.62 345.07,420.73 C343.47,418.83 342.14,417.49 341.59,415.62 C341.05,413.74 341.83,411.87 341.80,409.49 C341.76,407.10 341.94,403.87 341.39,401.31 C340.85,398.76 340.13,396.88 338.53,394.16 C336.93,391.43 334.27,388.37 331.78,384.96 C329.30,381.56 325.65,377.13 323.61,373.72 C321.57,370.32 320.65,367.28 319.52,364.52 C318.40,361.77 317.31,358.39 316.87,357.17 Z" fill="#ffffff" stroke="#555" stroke-width="0.75" stroke-linejoin="round"/>
<line x1="311.95" y1="357.20" x2="311.95" y2="407.60" stroke="#bdbdbd" stroke-width="1.3"/>
<line x1="311.95" y1="447.60" x2="311.95" y2="508.10" stroke="#bdbdbd" stroke-width="1.3"/>
<rect x="299.70" y="407.60" width="24.50" height="40.00" fill="none" stroke="#8a8a8a" stroke-width="0.9"/>
<line x1="299.70" y1="437.40" x2="324.20" y2="437.40" stroke="#333" stroke-width="1.1"/>
<line x1="299.70" y1="407.6" x2="324.20" y2="407.6" stroke="#444" stroke-width="0.9"/>
<circle cx="317.87" cy="400.90" r="1.3" fill="#bdbdbd"/>
<circle cx="316.03" cy="409.08" r="1.3" fill="#bdbdbd"/>
<circle cx="311.94" cy="421.14" r="1.3" fill="#bdbdbd"/>
<circle cx="307.44" cy="434.15" r="1.3" fill="#bdbdbd"/>
<circle cx="316.03" cy="434.77" r="1.3" fill="#bdbdbd"/>
<circle cx="317.66" cy="444.98" r="1.3" fill="#bdbdbd"/>
<circle cx="317.05" cy="453.16" r="1.3" fill="#bdbdbd"/>
<circle cx="314.19" cy="501.19" r="1.3" fill="#bdbdbd"/>
<circle cx="316.64" cy="501.80" r="1.3" fill="#bdbdbd"/>
<circle cx="317.05" cy="365.75" r="1.7" fill="#00ff00"/>
<circle cx="312.14" cy="373.52" r="1.7" fill="#00ff00"/>
<circle cx="316.23" cy="375.97" r="1.7" fill="#00ff00"/>
<circle cx="308.47" cy="385.17" r="1.7" fill="#00ff00"/>
<circle cx="315.21" cy="388.64" r="1.7" fill="#00ff00"/>
<circle cx="313.98" cy="389.05" r="1.7" fill="#00ff00"/>
<circle cx="316.84" cy="393.55" r="1.7" fill="#00ff00"/>
<circle cx="310.51" cy="397.02" r="1.7" fill="#00ff00"/>
<circle cx="312.96" cy="397.22" r="1.7" fill="#00ff00"/>
<circle cx="309.08" cy="400.90" r="1.7" fill="#00ff00"/>
<circle cx="307.44" cy="407.03" r="1.7" fill="#00ff00"/>
<circle cx="313.98" cy="408.47" r="1.7" fill="#00ff00"/>
<circle cx="316.03" cy="420.73" r="1.7" fill="#00ff00"/>
<circle cx="308.87" cy="427.47" r="1.7" fill="#00ff00"/>
<circle cx="317.46" cy="426.86" r="1.7" fill="#00ff00"/>
<circle cx="311.94" cy="429.31" r="1.7" fill="#00ff00"/>
<circle cx="308.06" cy="427.61" r="1.7" fill="#00ff00"/>
<circle cx="311.53" cy="430.47" r="1.7" fill="#00ff00"/>
<circle cx="316.64" cy="430.47" r="1.7" fill="#00ff00"/>
<circle cx="317.87" cy="427.00" r="1.7" fill="#00ff00"/>
<circle cx="307.03" cy="437.22" r="1.7" fill="#00ff00"/>
<circle cx="316.03" cy="436.20" r="1.7" fill="#00ff00"/>
<circle cx="309.49" cy="439.26" r="1.7" fill="#00ff00"/>
<circle cx="311.94" cy="438.85" r="1.7" fill="#00ff00"/>
<circle cx="313.98" cy="439.67" r="1.7" fill="#00ff00"/>
<circle cx="310.51" cy="441.71" r="1.7" fill="#00ff00"/>
<circle cx="312.55" cy="441.31" r="1.7" fill="#00ff00"/>
<circle cx="316.64" cy="444.37" r="1.7" fill="#00ff00"/>
<circle cx="314.60" cy="445.80" r="1.7" fill="#00ff00"/>
<circle cx="316.03" cy="446.82" r="1.7" fill="#00ff00"/>
<circle cx="311.53" cy="447.44" r="1.7" fill="#00ff00"/>
<circle cx="308.47" cy="447.85" r="1.7" fill="#00ff00"/>
<circle cx="307.44" cy="450.91" r="1.7" fill="#00ff00"/>
<circle cx="311.12" cy="451.12" r="1.7" fill="#00ff00"/>
<circle cx="316.03" cy="450.09" r="1.7" fill="#00ff00"/>
<circle cx="315.21" cy="457.04" r="1.7" fill="#00ff00"/>
<circle cx="317.87" cy="474.41" r="1.7" fill="#00ff00"/>
<circle cx="317.46" cy="486.27" r="1.7" fill="#00ff00"/>
<circle cx="309.08" cy="498.12" r="1.7" fill="#00ff00"/>
<circle cx="310.30" cy="504.25" r="1.7" fill="#00ff00"/>
<circle cx="308.87" cy="505.28" r="1.7" fill="#00ff00"/>
<circle cx="307.65" cy="506.50" r="1.7" fill="#00ff00"/>
<circle cx="311.33" cy="391.30" r="1.7" fill="#ff0000"/>
<circle cx="309.49" cy="408.26" r="1.7" fill="#ff0000"/>
<circle cx="307.65" cy="412.96" r="1.7" fill="#ff0000"/>
<circle cx="313.98" cy="421.14" r="1.7" fill="#ff0000"/>
<rect x="449.40" y="177.30" width="32.64" height="27.10" fill="#7ed321" stroke="#3a3a3a" stroke-width="0.6"/>
<text x="444.90" y="193.95" font-size="8.4" font-weight="normal" text-anchor="end" fill="#111" >90</text>
<rect x="449.40" y="210.20" width="21.86" height="27.10" fill="#7ed321" stroke="#3a3a3a" stroke-width="0.6"/>
<text x="444.90" y="226.98" font-size="8.4" font-weight="normal" text-anchor="end" fill="#111" >80</text>
<rect x="449.40" y="243.10" width="97.32" height="27.10" fill="#7ed321" stroke="#3a3a3a" stroke-width="0.6"/>
<rect x="546.42" y="243.10" width="21.86" height="27.10" fill="#d0d0d0" stroke="#3a3a3a" stroke-width="0.6"/>
<text x="444.90" y="260.01" font-size="8.4" font-weight="normal" text-anchor="end" fill="#111" >70</text>
<rect x="449.40" y="276.00" width="64.98" height="27.10" fill="#7ed321" stroke="#3a3a3a" stroke-width="0.6"/>
<rect x="514.08" y="276.00" width="21.86" height="27.10" fill="#d0d0d0" stroke="#3a3a3a" stroke-width="0.6"/>
<text x="444.90" y="293.04" font-size="8.4" font-weight="normal" text-anchor="end" fill="#111" >60</text>
<rect x="449.40" y="308.90" width="54.20" height="27.10" fill="#7ed321" stroke="#3a3a3a" stroke-width="0.6"/>
<rect x="503.30" y="308.90" width="11.08" height="27.10" fill="#ff5a2d" stroke="#3a3a3a" stroke-width="0.6"/>
<rect x="514.08" y="308.90" width="43.42" height="27.10" fill="#d0d0d0" stroke="#3a3a3a" stroke-width="0.6"/>
<text x="444.90" y="326.07" font-size="8.4" font-weight="normal" text-anchor="end" fill="#111" >50</text>
<rect x="449.40" y="341.80" width="75.76" height="27.10" fill="#7ed321" stroke="#3a3a3a" stroke-width="0.6"/>
<rect x="524.86" y="341.80" width="21.86" height="27.10" fill="#d0d0d0" stroke="#3a3a3a" stroke-width="0.6"/>
<text x="444.90" y="359.10" font-size="8.4" font-weight="normal" text-anchor="end" fill="#111" >40</text>
<rect x="449.40" y="374.70" width="108.10" height="27.10" fill="#7ed321" stroke="#3a3a3a" stroke-width="0.6"/>
<rect x="557.20" y="374.70" width="21.86" height="27.10" fill="#ff5a2d" stroke="#3a3a3a" stroke-width="0.6"/>
<rect x="578.76" y="374.70" width="54.20" height="27.10" fill="#d0d0d0" stroke="#3a3a3a" stroke-width="0.6"/>
<text x="444.90" y="392.13" font-size="8.4" font-weight="normal" text-anchor="end" fill="#111" >30</text>
<rect x="449.40" y="407.60" width="32.64" height="27.10" fill="#d0d0d0" stroke="#3a3a3a" stroke-width="0.6"/>
<text x="444.90" y="425.16" font-size="8.4" font-weight="normal" text-anchor="end" fill="#111" >20</text>
<rect x="449.40" y="440.50" width="11.08" height="27.10" fill="#7ed321" stroke="#3a3a3a" stroke-width="0.6"/>
<rect x="460.18" y="440.50" width="11.08" height="27.10" fill="#ff5a2d" stroke="#3a3a3a" stroke-width="0.6"/>
<text x="444.90" y="458.19" font-size="8.4" font-weight="normal" text-anchor="end" fill="#111" >10</text>
<line x1="449.40" y1="478.70" x2="611.10" y2="478.70" stroke="#777" stroke-width="0.9"/>
<line x1="449.40" y1="478.25" x2="449.40" y2="483.00" stroke="#777" stroke-width="0.9"/>
<text x="449.40" y="493.45" font-size="8.8" font-weight="normal" text-anchor="middle" fill="#111" >0</text>
<line x1="503.30" y1="478.25" x2="503.30" y2="483.00" stroke="#777" stroke-width="0.9"/>
<text x="503.30" y="493.45" font-size="8.8" font-weight="normal" text-anchor="middle" fill="#111" >5</text>
<line x1="557.20" y1="478.25" x2="557.20" y2="483.00" stroke="#777" stroke-width="0.9"/>
<text x="557.20" y="493.45" font-size="8.8" font-weight="normal" text-anchor="middle" fill="#111" >10</text>
<line x1="611.10" y1="478.25" x2="611.10" y2="483.00" stroke="#777" stroke-width="0.9"/>
<text x="611.10" y="493.45" font-size="8.8" font-weight="normal" text-anchor="middle" fill="#111" >15</text>
<text x="532.20" y="508.55" font-size="8.8" font-weight="normal" text-anchor="middle" fill="#111" >Cases</text>
<rect x="560.3" y="164.10" width="8.2" height="8.4" fill="#7ed321" stroke="#666" stroke-width="0.7"/>
<text x="572.30" y="171.70" font-size="8.65" font-weight="normal" text-anchor="start" fill="#111" >Fusion detected in WTS</text>
<rect x="560.3" y="180.70" width="8.2" height="8.4" fill="#ff5a2d" stroke="#666" stroke-width="0.7"/>
<text x="572.30" y="188.30" font-size="8.65" font-weight="normal" text-anchor="start" fill="#111" >Fusion not detected in WTS</text>
<rect x="560.3" y="197.30" width="8.2" height="8.4" fill="#d0d0d0" stroke="#666" stroke-width="0.7"/>
<text x="572.30" y="204.90" font-size="8.65" font-weight="normal" text-anchor="start" fill="#111" >no Fusion in Panel</text>
</svg>
</body></html>
